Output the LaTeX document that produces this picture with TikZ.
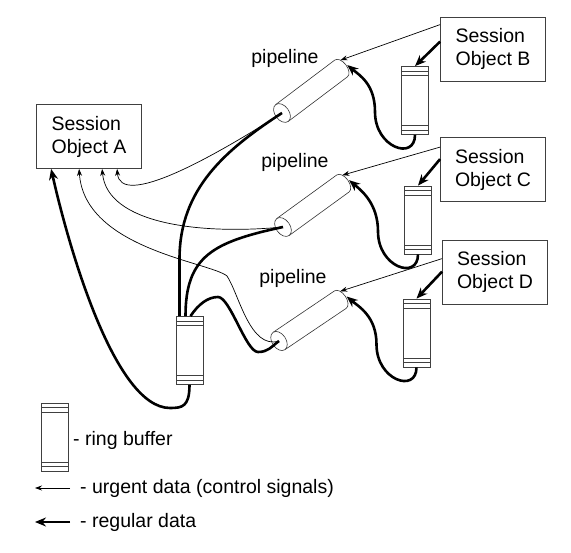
\documentclass[tikz,border=0pt]{standalone}
\usepackage{fontspec}
\setmainfont{Liberation Sans}
\usetikzlibrary{arrows.meta,positioning}

\begin{document}
\begin{tikzpicture}[x=1pt, y=-1pt,
    every node/.style={font=\fontsize{19.5}{23}\selectfont},
    session/.style={draw=black!75, line width=0.8pt, minimum width=105pt, minimum height=64pt, align=left},
    ringbuf/.style={draw=black!75, line width=0.8pt, minimum width=27pt, minimum height=68pt, inner sep=0pt,
      path picture={
        \foreach \off in {4.5,9}{
          \draw[black!75, line width=0.7pt] ([yshift=-\off pt]path picture bounding box.north west) -- ([yshift=-\off pt]path picture bounding box.north east);
          \draw[black!75, line width=0.7pt] ([yshift=\off pt]path picture bounding box.south west) -- ([yshift=\off pt]path picture bounding box.south east);
        }}},
    urgent/.style={line width=0.7pt, -{Stealth[length=7pt,width=5pt]}},
    regular/.style={line width=2.6pt, -{Stealth[length=11pt,width=9pt]}},
    wire/.style={line width=2.6pt},
    pipe/.pic={
      \draw[black!80, line width=0.6pt] (0pt,10.5pt) -- (74pt,10.5pt) arc[start angle=90, end angle=-90, x radius=6pt, y radius=10.5pt] -- (0pt,-10.5pt);
      \draw[black!80, line width=0.6pt, fill=white] (0pt,0pt) ellipse[x radius=7pt, y radius=10.5pt];
      \coordinate (-in) at (0pt,0pt);
      \coordinate (-top) at (78.5pt,7pt);
      \coordinate (-tip) at (81pt,-1pt);
    }
  ]
  \useasboundingbox (0,0) rectangle (571,553);

  % session objects
  \node[session] (sessA) at (89,136.5) {Session\\Object A};
  \node[session] (sessB) at (493,49) {Session\\Object B};
  \node[session] (sessC) at (493,169.5) {Session\\Object C};
  \node[session] (sessD) at (495,272) {Session\\Object D};

  % ring buffers
  \node[ringbuf] (bufB) at (415,100.5) {};
  \node[ringbuf] (bufC) at (418,220) {};
  \node[ringbuf] (bufD) at (416.5,333) {};
  \node[ringbuf] (bufM) at (189.5,350.5) {};

  % pipelines
  \pic[rotate=37] (p1) at (282,113) {pipe};
  \pic[rotate=36] (p2) at (283,227) {pipe};
  \pic[rotate=34] (p3) at (279,341) {pipe};
  \node (pl1) at (285,58) {pipeline};
  \node (pl2) at (295,162) {pipeline};
  \node (pl3) at (293,278) {pipeline};

  % sessions B, C, D into their pipelines
  \foreach \s/\p/\a/\b in {B/p1/8/25, C/p2/10/22, D/p3/19/32}{
    \draw[urgent] ([yshift=-\a pt]sess\s.north west) -- (\p-top);
    \draw[regular] ([yshift=-\b pt]sess\s.north west) -- (buf\s.north);
    \draw[regular] (buf\s.south) .. controls +(0,26) and +(0,36) .. ([shift={(-40,-23)}]buf\s.south)
      .. controls +(0,-28) and +(12,10) .. (\p-tip);
  }

  % pipelines into the shared buffer
  \draw[wire] ([xshift=-10pt]bufM.north) -- ++(0,-57) .. controls +(0,-70) and +(-57,37) .. (p1-in);
  \draw[wire] ([xshift=-4pt]bufM.north) .. controls +(0,-60) and +(-70,15) .. (p2-in);
  \draw[wire] ([xshift=1pt]bufM.north) .. controls +(8,-12) and +(-10,0) .. (218,297)
    .. controls +(12,0) and +(-12,0) .. (258,352) .. controls +(10,0) and +(-8,6) .. (p3-in);
  \draw[regular] (bufM.south) .. controls +(0,22) and +(12,0) .. (170,408)
    .. controls +(-55,0) and +(18,80) .. ([xshift=15pt]sessA.south west);

  % urgent data back to session A
  \draw[urgent] (p1-in) .. controls +(-70,45) and +(3,40) .. ([xshift=81pt]sessA.south west);
  \draw[urgent] (p2-in) .. controls +(-83,8) and +(5,55) .. ([xshift=66pt]sessA.south west);
  \draw[urgent] (p3-in) .. controls +(-29,9) and +(12,18) .. (227,276)
    .. controls +(-17,-14) and +(5,80) .. ([xshift=43pt]sessA.south west);

  % legend
  \node[ringbuf] (bufKey) at (54.5,437) {};
  \node[anchor=west, inner sep=0pt] (keyBuf) at (73,440) {- ring buffer};
  \coordinate (keyU) at (70,488);
  \coordinate (keyUEnd) at (35,488);
  \coordinate (keyR) at (70,522);
  \coordinate (keyREnd) at (35,522);
  \draw[urgent] (keyU) -- (keyUEnd);
  \draw[regular] (keyR) -- (keyREnd);
  \node[right=10pt of keyU, inner sep=0pt] (keyUrgent) {- urgent data (control signals)};
  \node[right=10pt of keyR, inner sep=0pt] (keyRegular) {- regular data};
\end{tikzpicture}
\end{document}
